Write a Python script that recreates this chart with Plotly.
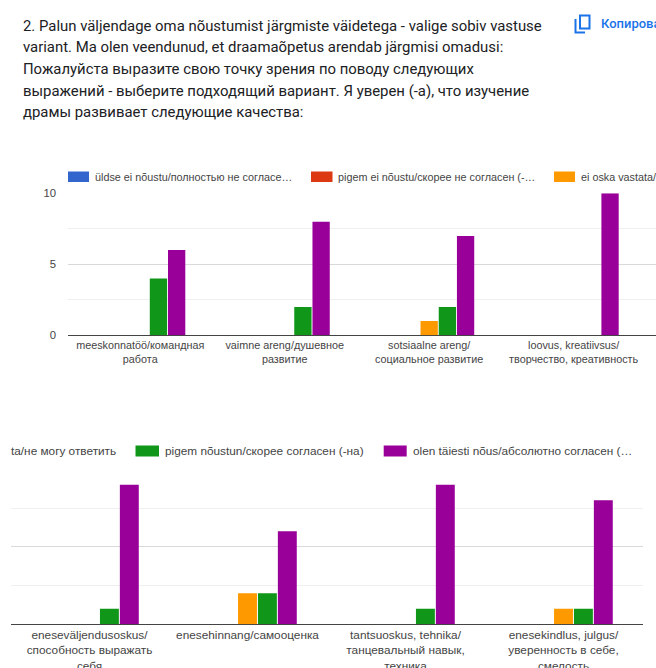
import plotly.graph_objects as go

WIDTH, HEIGHT = 656, 668

question_lines = [
    "2. Palun väljendage oma nõustumist järgmiste väidetega - valige sobiv vastuse",
    "variant. Ma olen veendunud, et draamaõpetus arendab järgmisi omadusi:",
    "Пожалуйста выразите свою точку зрения по поводу следующих",
    "выражений - выберите подходящий вариант. Я уверен (-а), что изучение",
    "драмы развивает следующие качества:",
]

categories_top = [
    "meeskonnatöö/командная<br>работа",
    "vaimne areng/душевное<br>развитие",
    "sotsiaalne areng/<br>социальное развитие",
    "loovus, kreatiivsus/<br>творчество, креативность",
]
categories_bottom = [
    "eneseväljendusoskus/<br>способность выражать<br>себя",
    "enesehinnang/самооценка",
    "tantsuoskus, tehnika/<br>танцевальный навык,<br>техника",
    "enesekindlus, julgus/<br>уверенность в себе,<br>смелость",
]

series_names = [
    "üldse ei nõustu/полностью не согласен",
    "pigem ei nõustu/скорее не согласен",
    "ei oska vastata/не могу ответить",
    "pigem nõustun/скорее согласен (-на)",
    "olen täiesti nõus/абсолютно согласен",
]
series_colors = ["#3366cc", "#dc3912", "#ff9900", "#109618", "#990099"]

values_top = [
    [0, 0, 0, 0],
    [0, 0, 0, 0],
    [0, 0, 1, 0],
    [4, 2, 2, 0],
    [6, 8, 7, 10],
]
values_bottom = [
    [0, 0, 0, 0],
    [0, 0, 0, 0],
    [0, 2, 0, 1],
    [1, 2, 1, 1],
    [9, 6, 9, 8],
]

TEXT_GREY = "#444444"
LABEL_FONT = "Liberation Sans, Arial, sans-serif"


def px_x(x):
    return x / WIDTH


def px_y(y):
    return 1 - y / HEIGHT


fig = go.Figure()

for name, color, top, bottom in zip(series_names, series_colors, values_top, values_bottom):
    fig.add_trace(go.Bar(x=categories_top, y=top, name=name, marker=dict(color=color, line_width=0),
                         xaxis="x", yaxis="y", offsetgroup=name))
    fig.add_trace(go.Bar(x=categories_bottom, y=bottom, name=name, marker=dict(color=color, line_width=0),
                         xaxis="x2", yaxis="y2", offsetgroup=name))

annotations = []
shapes = []


def add_text(x, y, text, size, color, family=LABEL_FONT, weight="normal"):
    annotations.append(dict(
        xref="paper", yref="paper", x=px_x(x), y=px_y(y), text=text, showarrow=False,
        xanchor="left", yanchor="middle", borderpad=0,
        font=dict(size=size, color=color, family=family, weight=weight),
    ))


def add_swatch(x0, x1, y0, y1, color):
    shapes.append(dict(type="rect", xref="paper", yref="paper", x0=px_x(x0), x1=px_x(x1),
                       y0=px_y(y0), y1=px_y(y1), fillcolor=color, line_width=0))


# question heading
for i, line in enumerate(question_lines):
    add_text(22, 25.5 + i * 21.7, line, 14.9, "#202124", "Roboto, sans-serif")

# copy button
add_text(600, 24, "Копировать", 13, "#1a73e8", "Roboto, sans-serif", 500)
shapes.append(dict(type="rect", xref="paper", yref="paper", x0=px_x(580), x1=px_x(589.5),
                   y0=px_y(15.5), y1=px_y(28.5), line=dict(color="#1a73e8", width=2)))
shapes.append(dict(type="path", xref="paper", yref="paper",
                   path=f"M {px_x(575.5)} {px_y(19)} L {px_x(575.5)} {px_y(32.5)} L {px_x(585)} {px_y(32.5)}",
                   line=dict(color="#1a73e8", width=2)))

# legend of the upper panel, running off the right edge
upper_legend = [
    (68, 89, 94, "üldse ei nõustu/полностью не согласе…", 0),
    (311, 332.5, 337, "pigem ei nõustu/скорее не согласен (-…", 1),
    (554, 575, 580, "ei oska vastata/не могу ответить", 2),
]
for x0, x1, tx, text, idx in upper_legend:
    add_swatch(x0, x1, 171.5, 182, series_colors[idx])
    add_text(tx, 176.5, text, 10.8, TEXT_GREY)

# legend of the lower panel, continuing from the upper one
add_text(10, 451, "ta/не могу ответить", 11.8, TEXT_GREY)
lower_legend = [
    (135.5, 159, 163.6, "pigem nõustun/скорее согласен (-на)", 3),
    (383.7, 406.7, 412, "olen täiesti nõus/абсолютно согласен (…", 4),
]
for x0, x1, tx, text, idx in lower_legend:
    add_swatch(x0, x1, 445.5, 456.5, series_colors[idx])
    add_text(tx, 451, text, 11.8, TEXT_GREY)


def value_axis(y0, y1, show_labels):
    return dict(
        domain=[px_y(y1), px_y(y0)], range=[0, 10], tick0=0, dtick=5, fixedrange=True,
        showgrid=True, gridcolor="#d9d9d9", gridwidth=1,
        minor=dict(dtick=2.5, tick0=0, showgrid=True, gridcolor="#efefef", gridwidth=1),
        showticklabels=show_labels, ticks="", ticklabelstandoff=11,
        tickfont=dict(size=11.3, color=TEXT_GREY, family=LABEL_FONT),
        zeroline=True, zerolinecolor="#444444", zerolinewidth=1, showline=False,
        automargin=False,
    )


def category_axis(x0, x1, x_range, array, size, anchor):
    return dict(
        domain=[px_x(x0), px_x(x1)], type="category", range=x_range, anchor=anchor,
        categoryorder="array", categoryarray=array, fixedrange=True, showgrid=False,
        ticks="", ticklabelstandoff=2, tickangle=0, showline=False, automargin=False,
        tickfont=dict(size=size, color=TEXT_GREY, family=LABEL_FONT),
    )


fig.update_layout(
    width=WIDTH, height=HEIGHT, autosize=False,
    margin=dict(l=0, r=0, t=0, b=0, pad=0),
    paper_bgcolor="white", plot_bgcolor="white",
    barmode="group", bargap=0.37, bargroupgap=0.05, showlegend=False,
    xaxis=category_axis(68, 656, [-0.5, 3.57], categories_top, 10.8, "y"),
    yaxis=value_axis(193.3, 335.3, True),
    xaxis2=category_axis(10.5, 642.5, [-0.5, 3.5], categories_bottom, 11.8, "y2"),
    yaxis2=dict(value_axis(469.3, 624.3, False), anchor="x2"),
    annotations=annotations, shapes=shapes,
)

fig.write_html("out.html", config=dict(displayModeBar=False))
